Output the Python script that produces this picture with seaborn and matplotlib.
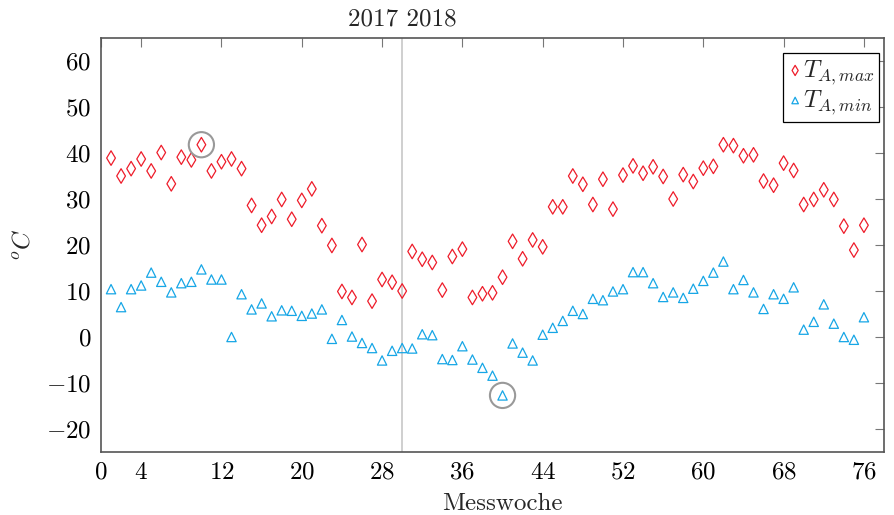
import numpy as np
import matplotlib
matplotlib.use("Agg")
import matplotlib.pyplot as plt
import matplotlib.transforms as mtransforms
import seaborn as sns

# Data (week number vs. temperature)
weeks = list(range(1, 77))
t_max = [38.9, 35.0, 36.6, 38.7, 36.1, 40.1, 33.3, 39.1, 38.5, 41.8,
         36.1, 38.1, 38.7, 36.6, 28.6, 24.3, 26.2, 29.9, 25.6, 29.7,
         32.2, 24.2, 19.9, 9.9, 8.6, 20.1, 7.8, 12.5, 11.9, 10.0,
         18.6, 16.9, 16.2, 10.2, 17.5, 19.1, 8.6, 9.4, 9.6, 13.0,
         20.8, 17.0, 21.1, 19.6, 28.3, 28.3, 35.0, 33.2, 28.8, 34.3,
         27.8, 35.2, 37.2, 35.6, 37.0, 34.9, 30.0, 35.3, 33.8, 36.7,
         37.1, 41.8, 41.6, 39.4, 39.6, 33.9, 33.0, 37.8, 36.2, 28.8,
         29.9, 32.0, 29.9, 24.1, 18.9, 24.3]
t_min = [10.4, 6.5, 10.4, 11.2, 14.0, 12.0, 9.7, 11.7, 12.0, 14.7,
         12.5, 12.5, 0.0, 9.3, 6.0, 7.3, 4.5, 5.8, 5.7, 4.6,
         5.1, 6.0, -0.4, 3.7, 0.1, -1.3, -2.4, -5.1, -3.0, -2.4,
         -2.5, 0.6, 0.4, -4.8, -5.0, -2.0, -4.9, -6.7, -8.4, -12.7,
         -1.4, -3.4, -5.1, 0.5, 2.0, 3.5, 5.7, 5.0, 8.3, 8.0,
         9.9, 10.4, 14.1, 14.1, 11.7, 8.7, 9.7, 8.5, 10.5, 12.2,
         14.0, 16.4, 10.4, 12.4, 9.7, 6.1, 9.3, 8.3, 10.8, 1.6,
         3.3, 7.1, 2.9, 0.0, -0.6, 4.3]
x_ticks = [0, 4, 12, 20, 28, 36, 44, 52, 60, 68, 76]
y_ticks = [-20, -10, 0, 10, 20, 30, 40, 50, 60]
year_break = 30

red = '#ee1c2a'
blue = '#16a6e6'
fs = 18

sns.set_theme(style='white')
plt.rcParams['font.family'] = ['cmr10', 'DejaVu Serif']
plt.rcParams['mathtext.fontset'] = 'cm'
plt.rcParams['axes.formatter.use_mathtext'] = True
plt.rcParams['axes.unicode_minus'] = True

fig = plt.figure(figsize=(8.94, 5.15), dpi=100)
ax = fig.add_axes([101 / 894, 1 - 452 / 515, 783 / 894, 414 / 515])

ax.axvline(year_break, color='#cccccc', lw=1.3, zorder=0)

sns.scatterplot(x=weeks, y=t_max, ax=ax, marker='d', s=55, facecolor='none',
                edgecolor=red, linewidth=0.9, label=r'$T_{A,max}$', zorder=3)
sns.scatterplot(x=weeks, y=t_min, ax=ax, marker='^', s=45, facecolor='none',
                edgecolor=blue, linewidth=0.9, label=r'$T_{A,min}$', zorder=3)

# highlight the extremes
i_hi = int(np.argmax(t_max))
i_lo = int(np.argmin(t_min))
ax.scatter([weeks[i_hi], weeks[i_lo]], [t_max[i_hi], t_min[i_lo]], s=330,
           facecolor='none', edgecolor='#999999', linewidth=1.5, zorder=4)

ax.set_xlim(0, 78)
ax.set_ylim(-25, 65)
ax.set_xticks(x_ticks)
ax.set_yticks(y_ticks)
ax.tick_params(direction='in', length=6.5, width=0.8, color='#777777',
               labelsize=fs, top=True, right=True, pad=7, labelcolor='black')
for s in ax.spines.values():
    s.set_color('#555555')
    s.set_linewidth(1.2)

ax.set_xlabel('Messwoche', fontsize=fs)
ax.xaxis.set_label_coords(0.513, -0.099)
ax.set_ylabel(r'$^oC$', fontsize=fs)
ax.yaxis.set_label_coords(-0.085, 0.5)

trans = mtransforms.blended_transform_factory(ax.transData, ax.transAxes)
ax.text(year_break, 1.045, '2017 2018', transform=trans, ha='center',
        va='center', fontsize=fs)

leg = ax.legend(loc='upper right', bbox_to_anchor=(1 - 5 / 783, 1 - 15 / 414),
                borderaxespad=0, fontsize=fs, frameon=True, fancybox=False,
                edgecolor='black', framealpha=1, handletextpad=0.0,
                handlelength=0.6, borderpad=0.2, labelspacing=0.05,
                markerscale=0.7)
leg.get_frame().set_linewidth(0.9)

fig.savefig('out.png', dpi=100)
